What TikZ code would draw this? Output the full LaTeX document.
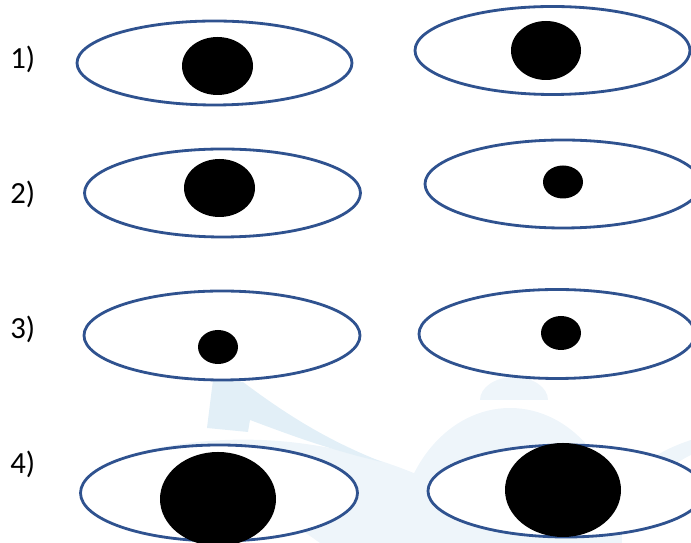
\documentclass[tikz,border=0pt]{standalone}
\usepackage{fontspec}
\setmainfont{Carlito}
\usepackage{xcolor}
\usepackage{tikz}
\definecolor{lid}{HTML}{2F528F}
\definecolor{wmark}{HTML}{E2EFF7}
\definecolor{wpale}{HTML}{EEF5FA}

\begin{document}
\begin{tikzpicture}[x=0.02cm, y=-0.02cm,
    every node/.style={font=\fontsize{17.5}{20}\selectfont, anchor=base west, inner sep=0pt},
    eyelid/.style={fill=white, draw=lid, line width=1.6pt},
    pupil/.style={fill=black}]
  \useasboundingbox (0,0) rectangle (691,543);
  % Watermark
  \fill[wpale] (398,543) arc (180:360:112 and 135) -- cycle;
  \fill[wpale] (480,400) arc (180:360:34 and 23) -- cycle;
  \fill[wpale] (140,452) .. controls (250,425) and (360,445) .. (440,485)
    -- (440,543) -- (320,543) .. controls (260,500) and (200,470) .. (140,470) -- cycle;
  \fill[wpale] (691,440) .. controls (660,450) and (640,465) .. (625,480) -- (650,490) .. controls (665,470) and (680,460) .. (691,455) -- cycle;
  \fill[wmark] (207,428) -- (213,380) -- (243,382) .. controls (300,425) and (340,445) .. (382,462)
    .. controls (330,450) and (290,435) .. (250,420) -- (248,432) -- cycle;
  % Labels
  \node (n1) at (10,69) {1)};
  \node (n2) at (10,204) {2)};
  \node (n3) at (10,339) {3)};
  \node (n4) at (10,474) {4)};
  % Row 1
  \path[eyelid] (214.5,63) ellipse [x radius=137.5, y radius=42];
  \fill[pupil] (217.5,66) ellipse [x radius=35.5, y radius=29];
  \path[eyelid] (552.5,50.5) ellipse [x radius=137.5, y radius=44];
  \fill[pupil] (546,50.5) ellipse [x radius=35, y radius=29.5];
  % Row 2
  \path[eyelid] (222.5,193) ellipse [x radius=138, y radius=44];
  \fill[pupil] (219.5,188) ellipse [x radius=35.5, y radius=29];
  \path[eyelid] (563,184) ellipse [x radius=138, y radius=44];
  \fill[pupil] (563,182) ellipse [x radius=20, y radius=16.5];
  % Row 3
  \path[eyelid] (222,335.5) ellipse [x radius=138, y radius=44.5];
  \fill[pupil] (218,347) ellipse [x radius=20, y radius=17];
  \path[eyelid] (557,334) ellipse [x radius=138, y radius=44.5];
  \fill[pupil] (561,333) ellipse [x radius=20, y radius=17];
  % Row 4
  \path[eyelid] (219,493) ellipse [x radius=138.5, y radius=48];
  \fill[pupil] (218,499) ellipse [x radius=58, y radius=47];
  \path[eyelid] (566,491) ellipse [x radius=138, y radius=46];
  \fill[pupil] (563,490) ellipse [x radius=58, y radius=47];
\end{tikzpicture}
\end{document}
